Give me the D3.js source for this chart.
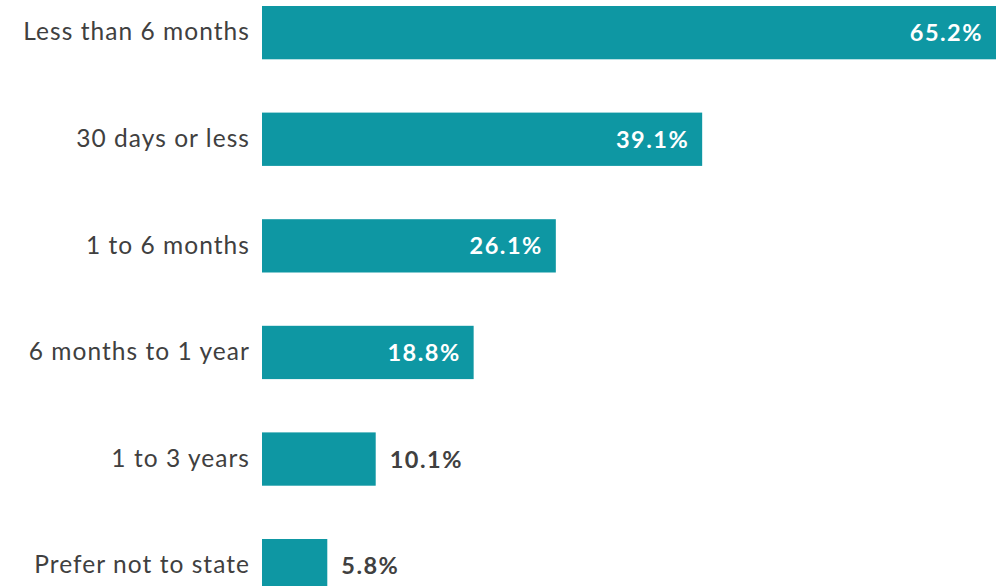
<!DOCTYPE html>
<html><head><meta charset="utf-8">
<script src="https://cdn.jsdelivr.net/npm/d3@7"></script>
<style>html,body{margin:0;padding:0;background:#fff;overflow:hidden}</style>
</head><body>
<svg id="c" width="1007" height="586"></svg>
<script>
const categories = ["Less than 6 months","30 days or less","1 to 6 months","6 months to 1 year","1 to 3 years","Prefer not to state"];
const values = [65.2, 39.1, 26.1, 18.8, 10.1, 5.8];
const valueLabels = ["65.2%","39.1%","26.1%","18.8%","10.1%","5.8%"];

const svg = d3.select("#c");
const x = d3.scaleLinear().domain([0, 65.2]).range([262, 996]);
const y = d3.scaleBand().domain(categories).range([6, 592.3]).paddingInner(0.5).paddingOuter(0);
const color = "#0e97a3";

svg.selectAll("rect.bar").data(values).enter().append("rect")
  .attr("x", x(0)).attr("y", (d,i)=>y(categories[i]))
  .attr("width", d=>x(d)-x(0)).attr("height", y.bandwidth()).attr("fill", color);

const yAxis = d3.axisLeft(y).tickSize(0).tickPadding(12);
const g = svg.append("g").attr("transform", `translate(${x(0)},0)`).call(yAxis);
g.select(".domain").remove();
g.selectAll("text").attr("font-family","Lato, sans-serif").attr("font-size",24.5)
  .attr("letter-spacing","1.05px").attr("fill","#404040");

svg.selectAll("text.val").data(values).enter().append("text")
  .attr("class","val")
  .attr("x", d => d > 15 ? x(d) - 13 : x(d) + 14)
  .attr("y", (d,i)=>y(categories[i]) + y.bandwidth()/2)
  .attr("dy","0.36em")
  .attr("text-anchor", d => d > 15 ? "end" : "start")
  .attr("font-family","Lato, sans-serif").attr("font-weight","bold").attr("font-size",23.5)
  .attr("letter-spacing","1.5px")
  .attr("fill", d => d > 15 ? "#ffffff" : "#404040")
  .text((d,i)=>valueLabels[i]);
</script>
</body></html>
